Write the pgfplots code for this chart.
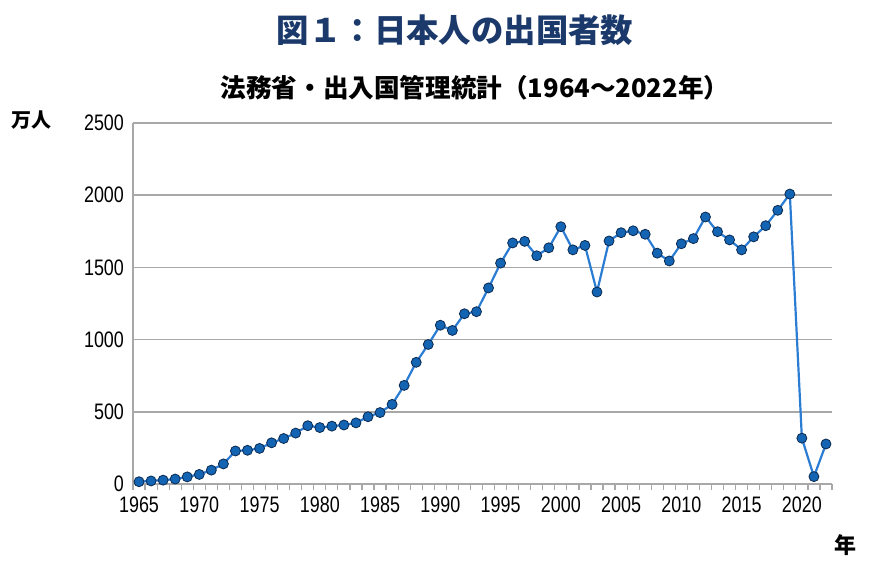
\documentclass[border=0pt]{standalone}
\usepackage{fontspec}
\usepackage{pgfplots}
\pgfplotsset{compat=1.18}
\newfontfamily\cjk{Noto Sans CJK JP}
\newfontfamily\narrow[FakeStretch=0.8]{Liberation Sans}
\definecolor{titleblue}{HTML}{1B3A6B}
\definecolor{lineblue}{HTML}{2B7CD3}
\definecolor{markblue}{HTML}{1464B4}
\definecolor{markedge}{HTML}{0A2A50}
\definecolor{gridgray}{HTML}{A8A8A8}
\begin{document}
\begin{tikzpicture}
\path[use as bounding box] (0,0) rectangle (435pt,-283.5pt);
\node[font=\cjk\bfseries\fontsize{16.2pt}{19pt}\selectfont, text=titleblue] at (227.5pt,-15pt) {図１：日本人の出国者数};
\node[font=\cjk\bfseries\fontsize{12.8pt}{15pt}\selectfont] at (237.5pt,-44pt) {法務省・出入国管理統計（1964～2022年）};
\node[font=\cjk\bfseries\fontsize{10pt}{12pt}\selectfont] at (15.5pt,-60pt) {万人};
\node[font=\cjk\bfseries\fontsize{11pt}{13pt}\selectfont] at (422.5pt,-272.5pt) {年};
\begin{axis}[
  at={(66.5pt,-242pt)}, anchor=south west,
  scale only axis, width=349.5pt, height=180.5pt,
  xmin=1964.5, xmax=2022.5, ymin=0, ymax=2500,
  axis x line*=bottom, axis y line*=left,
  axis line style={gridgray, line width=0.8pt, -},
  xtick={1965,1970,...,2020},
  minor xtick={1964.5,1965.5,...,2022.5},
  major tick length=0pt, minor tick length=3pt,
  tick align=outside,
  minor tick style={gridgray, line width=0.6pt},
  ytick={0,500,...,2500},
  ymajorgrids, grid style={gridgray, line width=0.8pt},
  ytick style={draw=none},
  /pgf/number format/assume math mode=true,
  /pgf/number format/1000 sep={},
  tick label style={font=\narrow\fontsize{11.2pt}{13pt}\selectfont},
  xticklabel style={yshift=-3pt},
  yticklabel style={xshift=-1pt},
  clip=false,
]
\addplot[color=lineblue, line width=1.1pt, mark=*, mark size=2.5pt,
  mark options={fill=markblue, draw=markedge, line width=0.4pt}]
  coordinates {
(1965,15.9)(1966,21.2)(1967,26.8)(1968,34.4)(1969,49.3)(1970,66.3)
(1971,96.1)(1972,139.2)(1973,228.8)(1974,233.6)(1975,246.6)(1976,285.3)
(1977,315.1)(1978,352.6)(1979,403.8)(1980,390.9)(1981,400.7)(1982,408.6)
(1983,423.3)(1984,465.9)(1985,494.8)(1986,551.6)(1987,682.9)(1988,842.7)
(1989,966.3)(1990,1099.7)(1991,1063.4)(1992,1179.1)(1993,1193.4)(1994,1357.9)
(1995,1529.8)(1996,1669.5)(1997,1680.3)(1998,1580.6)(1999,1635.8)(2000,1781.9)
(2001,1621.6)(2002,1652.2)(2003,1329.6)(2004,1683.1)(2005,1740.4)(2006,1753.5)
(2007,1729.5)(2008,1598.7)(2009,1544.6)(2010,1663.7)(2011,1699.4)(2012,1849.1)
(2013,1747.3)(2014,1690.3)(2015,1621.4)(2016,1711.6)(2017,1788.9)(2018,1895.4)
(2019,2008.1)(2020,317.4)(2021,51.2)(2022,277.2)
  };
\end{axis}
\end{tikzpicture}
\end{document}
